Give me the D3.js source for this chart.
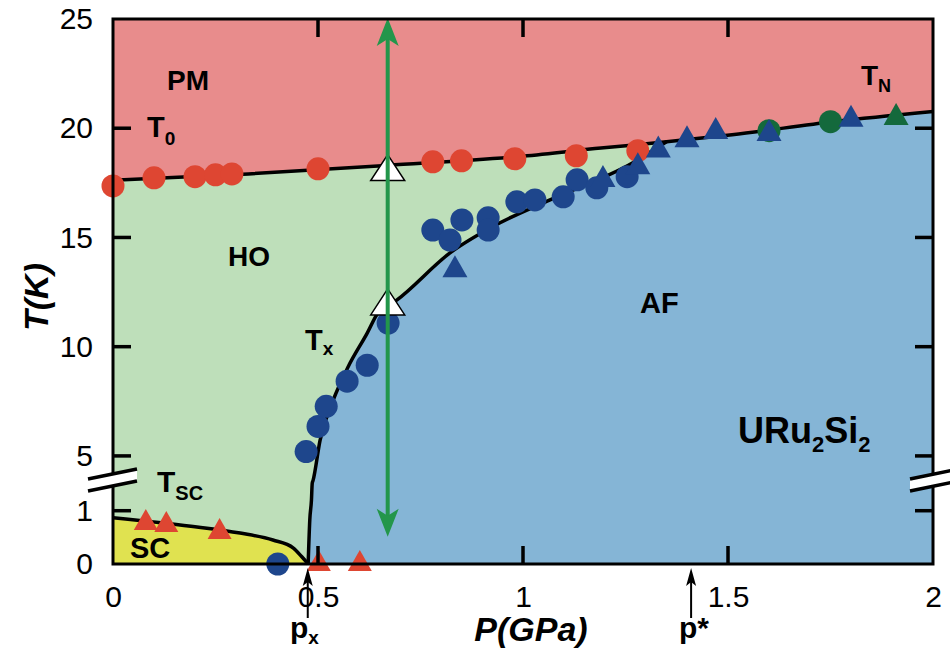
<!DOCTYPE html>
<html>
<head>
<meta charset="utf-8">
<script src="https://cdn.jsdelivr.net/npm/d3@7"></script>
<style>
  body { margin: 0; background: #fff; }
  svg { display: block; font-family: "Liberation Sans", Arial, sans-serif; }
</style>
</head>
<body>
<div id="chart"></div>
<script>
// ---- data: pressure P (GPa), temperature T (K) ----
const t0Line = [[0, 17.62], [0.33, 17.91], [0.67, 18.3], [1.0, 18.72], [1.19, 19.09], [1.35, 19.38], [1.51, 19.7], [1.76, 20.31], [2.0, 20.77]];
const txLine = [[0.476, 0], [0.48, 0.83], [0.484, 1.2], [0.486, 1.52], [0.488, 3.88], [0.505, 5.71], [0.537, 7.55], [0.573, 9.06], [0.62, 10.62], [0.646, 11.54], [0.692, 12.13], [0.822, 14.29], [0.944, 15.67], [1.066, 16.72], [1.268, 18.42], [1.35, 19.38]];
const scLine = [[0, 0.87], [0.19, 0.71], [0.31, 0.58], [0.39, 0.45], [0.44, 0.3], [0.46, 0.14], [0.476, 0]];

const redCircles = [[0, 17.36], [0.10, 17.73], [0.2, 17.78], [0.25, 17.87], [0.29, 17.91], [0.5, 18.14], [0.78, 18.46], [0.85, 18.51], [0.98, 18.6], [1.13, 18.74], [1.28, 18.97]];
const blueCircles = [[0.402, 0], [0.471, 5.2], [0.5, 6.35], [0.52, 7.27], [0.571, 8.42], [0.62, 9.15], [0.671, 11.08], [0.78, 15.34], [0.822, 14.88], [0.851, 15.8], [0.915, 15.9], [0.915, 15.34], [0.985, 16.63], [1.029, 16.72], [1.098, 16.86], [1.132, 17.64], [1.18, 17.27], [1.254, 17.78]];
const blueTriangles = [[0.834, 13.51], [1.195, 17.64], [1.28, 18.23], [1.33, 19.0], [1.40, 19.47], [1.47, 19.84], [1.60, 19.75], [1.80, 20.4]];
const greenCircles = [[1.60, 19.89], [1.75, 20.3]];
const greenTriangles = [[1.91, 20.48]];
const redTriangles = [[0.08, 0.77], [0.13, 0.73], [0.26, 0.6], [0.502, 0], [0.602, 0]];
const whiteTriangles = [[0.67, 18.0], [0.67, 11.85]];
const arrowP = 0.67, arrowT = [0.51, 25.05];

const xTicks = [0, 0.5, 1, 1.5, 2];
const yTicks = [0, 1, 5, 10, 15, 20, 25];
const yBreak = [1.52, 3.76];

const C = {
  pm: "#e88c8c", ho: "#bedfba", af: "#85b5d6", sc: "#e0e250",
  red: "#de4632", navy: "#1e468c", dkgreen: "#14693c", arrow: "#23964b"
};

const W = 950, H = 653;
const svg = d3.select("#chart").append("svg").attr("width", W).attr("height", H);

const x = d3.scaleLinear().domain([0, 2]).range([113, 933]);
// broken axis: 0..1.52 K stretched, 3.76..25 K compressed
const y = d3.scaleLinear().domain([0, yBreak[0], yBreak[1], 25]).range([564, 483, 483, 19]);

const line = d3.line().x(d => x(d[0])).y(d => y(d[1])).curve(d3.curveMonotoneX);

// Regions
svg.append("rect").attr("x", x(0)).attr("y", y(25)).attr("width", x(2) - x(0)).attr("height", y(0) - y(25)).attr("fill", C.pm);
svg.append("path").attr("fill", C.ho)
  .attr("d", line(t0Line) + `L${x(2)},${y(0)}L${x(0)},${y(0)}Z`);
const t0Tail = t0Line.filter(d => d[0] >= 1.35);
svg.append("path").attr("fill", C.af)
  .attr("d", line(txLine) + line(t0Tail).replace(/^M/, "L") + `L${x(2)},${y(0)}Z`);
svg.append("path").attr("fill", C.sc)
  .attr("d", line(scLine) + `L${x(0)},${y(0)}Z`);

// Boundary lines
[t0Line, txLine, scLine].forEach(pts => {
  svg.append("path").attr("d", line(pts)).attr("fill", "none")
    .attr("stroke", "#000").attr("stroke-width", 3.5);
});

// Markers
const tri = (w, h) => `M0,${-2 * h / 3}L${w / 2},${h / 3}L${-w / 2},${h / 3}Z`;
function circles(data, color) {
  svg.append("g").selectAll("circle").data(data).enter().append("circle")
    .attr("cx", d => x(d[0])).attr("cy", d => y(d[1])).attr("r", 11.5).attr("fill", color);
}
function triangles(data, color, w, h, stroke) {
  svg.append("g").selectAll("path").data(data).enter().append("path")
    .attr("transform", d => `translate(${x(d[0])},${y(d[1])})`)
    .attr("d", tri(w, h)).attr("fill", color)
    .attr("stroke", stroke || "none").attr("stroke-width", 1.5);
}
circles(redCircles, C.red);
circles(greenCircles, C.dkgreen);
circles(blueCircles, C.navy);
triangles(blueTriangles, C.navy, 25, 22);
triangles(greenTriangles, C.dkgreen, 25, 22);
triangles(redTriangles, C.red, 24, 21);
triangles(whiteTriangles, "#fff", 34, 26, "#000");

// Green double arrow
const ax = x(arrowP), ay0 = y(arrowT[0]), ay1 = y(arrowT[1]);
svg.append("line").attr("x1", ax).attr("x2", ax).attr("y1", ay1 + 20).attr("y2", ay0 - 20)
  .attr("stroke", C.arrow).attr("stroke-width", 4);
svg.append("path").attr("fill", C.arrow)
  .attr("d", `M${ax},${ay1}L${ax + 11},${ay1 + 28}L${ax},${ay1 + 21}L${ax - 11},${ay1 + 28}Z`);
svg.append("path").attr("fill", C.arrow)
  .attr("d", `M${ax},${ay0}L${ax + 11},${ay0 - 28}L${ax},${ay0 - 21}L${ax - 11},${ay0 - 28}Z`);

// Axes: tick labels from d3 axes
function styleAxis(g) {
  g.select(".domain").remove();
  g.selectAll(".tick line").remove();
  g.selectAll(".tick text").attr("fill", "#000").attr("font-size", "30px");
}
svg.append("g").attr("transform", `translate(0,${y(0)})`)
  .call(d3.axisBottom(x).tickValues(xTicks).tickSize(0).tickPadding(22).tickFormat(d => String(d)))
  .call(styleAxis);
svg.append("g").attr("transform", `translate(${x(0)},0)`)
  .call(d3.axisLeft(y).tickValues(yTicks).tickSize(0).tickPadding(20).tickFormat(d => String(d)))
  .call(styleAxis);

// Inward tick marks on all four sides
const tl = 18, tw = 3.5;
const tickG = svg.append("g").attr("fill", "#000");
xTicks.slice(1, -1).forEach(v => {
  tickG.append("rect").attr("x", x(v) - tw / 2).attr("y", y(0) - tl).attr("width", tw).attr("height", tl);
  tickG.append("rect").attr("x", x(v) - tw / 2).attr("y", y(25)).attr("width", tw).attr("height", tl);
});
yTicks.slice(1, -1).forEach(v => {
  tickG.append("rect").attr("x", x(0)).attr("y", y(v) - tw / 2).attr("width", tl).attr("height", tw);
  tickG.append("rect").attr("x", x(2) - tl).attr("y", y(v) - tw / 2).attr("width", tl).attr("height", tw);
});

// Frame
svg.append("rect").attr("x", x(0)).attr("y", y(25)).attr("width", x(2) - x(0)).attr("height", y(0) - y(25))
  .attr("fill", "none").attr("stroke", "#000").attr("stroke-width", 3);

// Axis break marks
function breakMark(x0, x1) {
  const yb = y(yBreak[0]) + 2, s = -10 / 49;
  const yl = xx => yb + (xx - x0) * s;
  svg.append("path").attr("fill", "#fff")
    .attr("d", `M${x0},${yl(x0) - 5}L${x1},${yl(x1) - 5}L${x1},${yl(x1) + 5}L${x0},${yl(x0) + 5}Z`);
  [-6, 6].forEach(o => {
    svg.append("line").attr("x1", x0).attr("y1", yl(x0) + o).attr("x2", x1).attr("y2", yl(x1) + o)
      .attr("stroke", "#000").attr("stroke-width", 3.5);
  });
}
breakMark(x(0) - 25, x(0) + 24);
breakMark(x(2) - 23, x(2) + 20);

// Axis titles
svg.append("text").attr("x", 531).attr("y", 641).attr("text-anchor", "middle")
  .attr("font-size", "34px").attr("font-weight", "bold").attr("font-style", "italic").text("P(GPa)");
svg.append("text").attr("transform", "translate(48,297) rotate(-90)").attr("text-anchor", "middle")
  .attr("font-size", "34px").attr("font-weight", "bold").attr("font-style", "italic").text("T(K)");

// Region labels
function label(px, py, main, sub, size, subSize, subDy) {
  const t = svg.append("text").attr("x", px).attr("y", py).attr("font-weight", "bold").attr("font-size", size + "px");
  t.append("tspan").text(main);
  if (sub) {
    t.append("tspan").attr("font-size", subSize + "px").attr("dy", subDy).text(sub);
  }
  return t;
}
label(167, 90, "PM", null, 28);
label(147, 137, "T", "0", 29, 19, 8);
label(228, 266, "HO", null, 28);
label(305, 350, "T", "x", 29, 19, 5);
label(640, 313, "AF", null, 29);
label(861, 85, "T", "N", 28, 18, 7);
label(157, 492, "T", "SC", 30, 20, 8);
label(130, 558, "SC", null, 29);

const ur = svg.append("text").attr("x", 738).attr("y", 443).attr("font-weight", "bold").attr("font-size", "36px");
ur.append("tspan").text("URu");
ur.append("tspan").attr("font-size", "22px").attr("dy", 9).text("2");
ur.append("tspan").attr("dy", -9).text("Si");
ur.append("tspan").attr("font-size", "22px").attr("dy", 9).text("2");

// px and p* markers under the axis
function pArrow(p) {
  const px = x(p), top = y(0) + 4;
  svg.append("line").attr("x1", px).attr("x2", px).attr("y1", top + 12).attr("y2", top + 50)
    .attr("stroke", "#000").attr("stroke-width", 2);
  svg.append("path").attr("fill", "#000")
    .attr("d", `M${px},${top}L${px + 5},${top + 18}L${px},${top + 14}L${px - 5},${top + 18}Z`);
}
pArrow(0.475);
pArrow(1.41);
label(290, 638, "p", "x", 30, 19, 6);
label(679, 638, "p*", null, 30);
</script>
</body>
</html>
